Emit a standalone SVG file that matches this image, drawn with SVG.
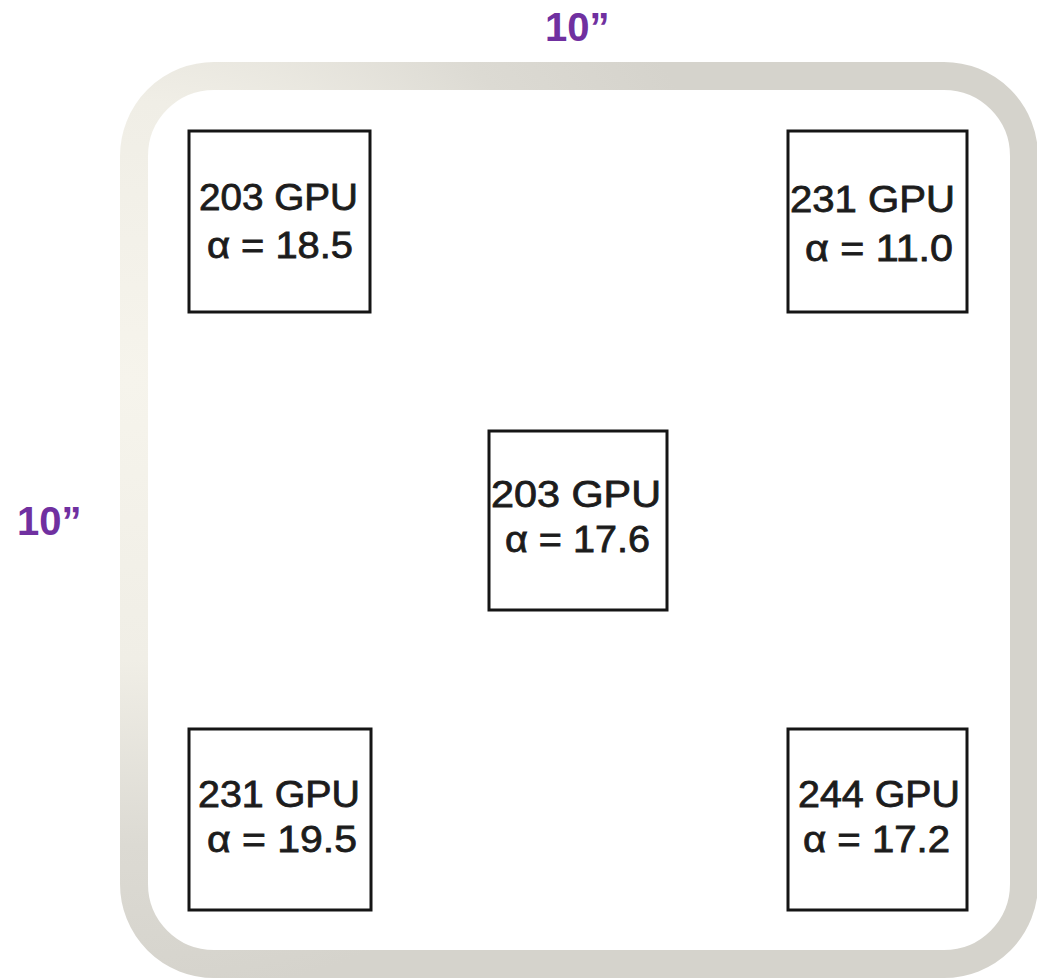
<svg xmlns="http://www.w3.org/2000/svg" width="1037" height="980" viewBox="0 0 1037 980">
  <defs>
    <radialGradient id="frameGrad" gradientUnits="userSpaceOnUse" cx="130" cy="380" r="620">
      <stop offset="0" stop-color="#f6f4ec"/>
      <stop offset="0.45" stop-color="#f0eee6"/>
      <stop offset="0.75" stop-color="#dcdad3"/>
      <stop offset="1" stop-color="#d5d3cc"/>
    </radialGradient>
  </defs>
  <style>
    .box { fill: #ffffff; stroke: #151515; stroke-width: 3; }
    .lbl { font-family: "Liberation Sans", Arial, sans-serif; font-size: 37px; fill: #1c1c1c; stroke: #1c1c1c; stroke-width: 0.8px; }
    .dim { font-family: "Liberation Sans", Arial, sans-serif; font-size: 40px; font-weight: bold; fill: #7030a0; }
  </style>
  <rect width="1037" height="980" fill="#ffffff"/>

  <g id="frame">
    <rect x="134" y="76" width="890" height="888" rx="80" ry="80" fill="#ffffff" stroke="url(#frameGrad)" stroke-width="28"/>
  </g>

  <g id="dim-top">
    <text class="dim" x="545" y="41">10”</text>
  </g>
  <g id="dim-left">
    <text class="dim" x="17" y="535">10”</text>
  </g>

  <g id="connectors"></g>

  <g id="node-tl">
    <rect class="box" x="189" y="131" width="181" height="181"/>
    <text class="lbl" x="199" y="210" textLength="159" lengthAdjust="spacingAndGlyphs">203 GPU</text>
    <text class="lbl" x="207" y="258" textLength="146" lengthAdjust="spacingAndGlyphs">α = 18.5</text>
  </g>

  <g id="node-tr">
    <rect class="box" x="788" y="131" width="179" height="181"/>
    <text class="lbl" x="790" y="212" textLength="165" lengthAdjust="spacingAndGlyphs">231 GPU</text>
    <text class="lbl" x="805" y="261" textLength="148" lengthAdjust="spacingAndGlyphs">α = 11.0</text>
  </g>

  <g id="node-center">
    <rect class="box" x="489" y="431" width="178" height="179"/>
    <text class="lbl" x="491" y="507" textLength="170" lengthAdjust="spacingAndGlyphs">203 GPU</text>
    <text class="lbl" x="505" y="552" textLength="145" lengthAdjust="spacingAndGlyphs">α = 17.6</text>
  </g>

  <g id="node-bl">
    <rect class="box" x="189" y="729" width="182" height="181"/>
    <text class="lbl" x="198" y="807" textLength="162" lengthAdjust="spacingAndGlyphs">231 GPU</text>
    <text class="lbl" x="207" y="852" textLength="150" lengthAdjust="spacingAndGlyphs">α = 19.5</text>
  </g>

  <g id="node-br">
    <rect class="box" x="788" y="729" width="179" height="181"/>
    <text class="lbl" x="798" y="807" textLength="162" lengthAdjust="spacingAndGlyphs">244 GPU</text>
    <text class="lbl" x="803" y="852" textLength="147" lengthAdjust="spacingAndGlyphs">α = 17.2</text>
  </g>
</svg>
